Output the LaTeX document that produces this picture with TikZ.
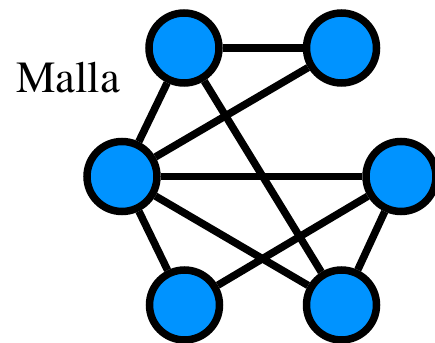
\documentclass[tikz,border=0pt]{standalone}
\usepackage[T1]{fontenc}
\usepackage{mathptmx}
\definecolor{nodeblue}{RGB}{0,147,255}
\begin{document}
\begin{tikzpicture}[x=1pt,y=1pt,
  vtx/.style={circle,draw=black,fill=nodeblue,line width=7.5pt,minimum size=70pt,inner sep=0pt},
  edge/.style={draw=black,line width=7.5pt},
  lbl/.style={inner sep=0pt,font=\fontsize{44.5pt}{50pt}\selectfont}]
\useasboundingbox (0,0) rectangle (435,342);
\node[vtx] (tl) at (184,294) {};
\node[vtx] (tr) at (341.5,294) {};
\node[vtx] (lm) at (122,165.5) {};
\node[vtx] (rm) at (401,165.5) {};
\node[vtx] (bl) at (184.5,37) {};
\node[vtx] (br) at (341.5,37) {};
\node[lbl,anchor=base west] (t) at (16,249.3) {Malla};
\draw[edge] (tl) -- (tr);
\draw[edge] (tl) -- (lm);
\draw[edge] (tl) -- (br);
\draw[edge] (tr) -- (lm);
\draw[edge] (lm) -- (rm);
\draw[edge] (lm) -- (bl);
\draw[edge] (lm) -- (br);
\draw[edge] (rm) -- (bl);
\draw[edge] (rm) -- (br);
\end{tikzpicture}
\end{document}
